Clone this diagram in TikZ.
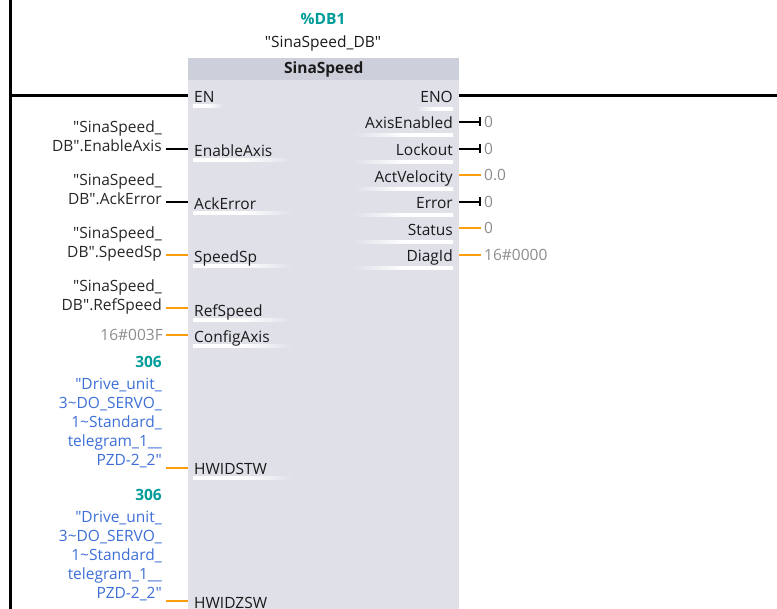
\documentclass[tikz,border=0pt]{standalone}
\usepackage{fontspec}
\setmainfont{Open Sans}[Ligatures=TeXOff]
\definecolor{BlockBody}{HTML}{DFE0E8}
\definecolor{BlockHead}{HTML}{CDCFDB}
\definecolor{PinOrange}{HTML}{FF9E0D}
\definecolor{ValGrey}{HTML}{8C8C8C}
\definecolor{DbTeal}{HTML}{009C99}
\definecolor{TagBlue}{HTML}{3D6FD6}
\definecolor{PinText}{HTML}{1A1A1A}
\usetikzlibrary{positioning,arrows.meta,calc}
\tikzset{
  rail/.style={line width=3pt, black},
  wire/.style={line width=2.5pt},
  boolwire/.style={wire, black},
  numwire/.style={wire, PinOrange},
  boolout/.style={wire, black, -{Bar[width=9pt, line width=2.5pt]}},
  numout/.style={wire, PinOrange},
  pinL/.style={anchor=base west, inner sep=0pt, text=PinText},
  pinR/.style={anchor=base east, inner sep=0pt, text=PinText},
  tag/.style={align=right, inner xsep=4pt, inner ysep=0pt, text=black!85},
  hwtag/.style={tag, text=TagBlue},
  val/.style={inner xsep=3pt, inner ysep=0pt, text=ValGrey},
  bold/.style={font=\fontsize{15.5}{19}\selectfont\bfseries},
  ulineL/.style={left color=white, right color=BlockBody, middle color=white},
  ulineR/.style={left color=BlockBody, right color=white, middle color=white},
}

\begin{document}
\begin{tikzpicture}[x=1pt, y=-1pt, font=\fontsize{15.5}{19}\selectfont]
  \clip (0,0) rectangle (777,609);

  % power rail
  \coordinate (railtop) at (10,0);
  \coordinate (railbot) at (10,609);
  \draw[rail] (railtop) -- (railbot);

  % instance data block
  \node[bold, text=DbTeal, anchor=base] (dbnum) at (323,24.5) {\%DB1};
  \node[anchor=base, text=PinText] (dbname) at (323,47.5) {"SinaSpeed\_DB"};

  % function block
  \node[fill=BlockBody, anchor=north west, minimum width=271pt, minimum height=560pt, inner sep=0pt] (fb) at (188,58) {};
  \node[fill=BlockHead, anchor=north west, minimum width=271pt, minimum height=22pt, inner sep=0pt,
        text height=11pt, text depth=2pt, bold, text=PinText] (fbhead) at (fb.north west) {SinaSpeed};

  % EN / ENO
  \coordinate (pwr) at (10,96);
  \coordinate (en) at (188,96);
  \coordinate (eno) at (459,96);
  \coordinate (nxt) at (777,96);
  \draw[rail] (pwr) -- (en);
  \draw[rail] (eno) -- (nxt);

  % input pins
  \foreach \p/\y/\w in {EN/97/30, EnableAxis/151/100, AckError/204/100, SpeedSp/257/100,
                        RefSpeed/311/100, ConfigAxis/337/100, HWIDSTW/469/100, HWIDZSW/603/100}{
    \shade[ulineL] (193,\y+11) rectangle ++(\w,-3);
    \node[pinL] (\p) at (194,\y+5.5) {\p};
  }

  % output pins
  \foreach \p/\y/\w in {ENO/97/38, AxisEnabled/123/100, Lockout/150/100, ActVelocity/177/100,
                        Error/203/100, Status/230/100, DiagId/256/100}{
    \shade[ulineR] (453-\w,\y+11) rectangle (453,\y+14);
    \node[pinR] (\p) at (453,\y+5.5) {\p};
  }

  % actual parameters, inputs
  \foreach \p/\y/\s in {EnableAxis/149/boolwire, AckError/202/boolwire,
                        SpeedSp/255/numwire, RefSpeed/308/numwire}{
    \node[tag, anchor=north east] (src\p) at (166,\y-28) {"SinaSpeed\_\\DB".\p};
    \coordinate (in\p) at (188,\y);
    \draw[\s] (src\p.east |- in\p) -- (in\p);
  }
  \node[val, anchor=base east] (srcConfigAxis) at (166,340.5) {16\#003F};
  \coordinate (inConfigAxis) at (188,335);
  \draw[numwire] (srcConfigAxis.east |- inConfigAxis) -- (inConfigAxis);

  % hardware identifiers
  \foreach \p/\y in {HWIDSTW/468, HWIDZSW/601}{
    \node[hwtag, anchor=north east] (src\p) at (166,\y-90) {"Drive\_unit\_\\3\textasciitilde DO\_SERVO\_\\1\textasciitilde Standard\_\\telegram\_1\_\_\\PZD-2\_2"};
    \node[bold, text=DbTeal, anchor=base east, inner xsep=4pt] (hw\p) at (166,\y-100.5) {306};
    \coordinate (in\p) at (188,\y);
    \draw[numwire] (src\p.east |- in\p) -- (in\p);
  }

  % actual parameters, outputs
  \foreach \p/\y/\v/\s in {AxisEnabled/122/0/boolout, Lockout/149/0/boolout, ActVelocity/175/0.0/numout,
                           Error/202/0/boolout, Status/228/0/numout, DiagId/255/16\#0000/numout}{
    \coordinate (out\p) at (459,\y);
    \node[val, anchor=base west] (dst\p) at (481,\y+5.5) {\v};
    \draw[\s] (out\p) -- (dst\p.west |- out\p);
  }
\end{tikzpicture}
\end{document}
